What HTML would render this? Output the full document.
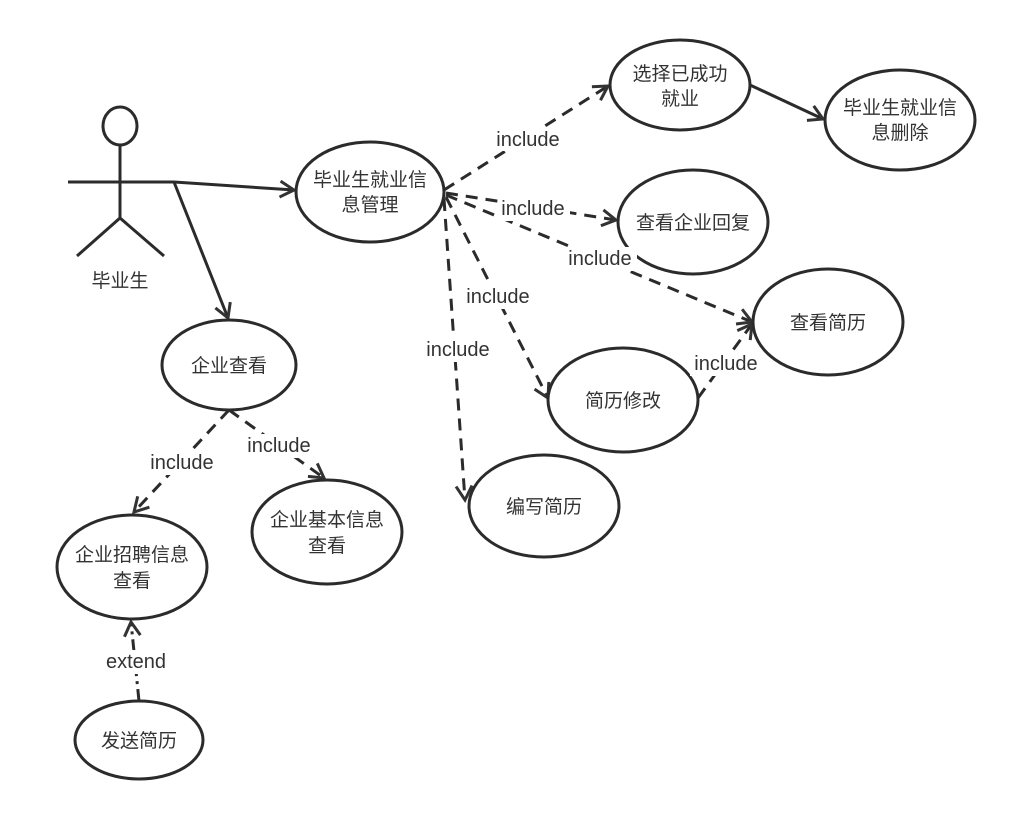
<!DOCTYPE html>
<html><head><meta charset="utf-8"><style>
html,body{margin:0;padding:0;background:#fff;}
svg text{font-family:"Liberation Sans","Noto Sans CJK SC",sans-serif;fill:#333;}
</style></head><body>
<svg width="1011" height="816" viewBox="0 0 1011 816" xmlns="http://www.w3.org/2000/svg">
<defs>
<marker id="a" markerWidth="20" markerHeight="20" refX="16" refY="10" orient="auto" markerUnits="userSpaceOnUse">
<path d="M2,2 L16,10 L2,18" fill="none" stroke="#333" stroke-width="3"/>
</marker>
</defs>
<g stroke="#2b2b2b" stroke-width="3" fill="none">
<ellipse cx="120" cy="126" rx="17" ry="19"/>
<line x1="120" y1="145" x2="120" y2="218"/>
<line x1="68" y1="182" x2="174" y2="182"/>
<line x1="120" y1="218" x2="77" y2="256"/>
<line x1="120" y1="218" x2="164" y2="256"/>
<line x1="174" y1="182" x2="294" y2="190" marker-end="url(#a)"/>
<line x1="174" y1="182" x2="228" y2="318" marker-end="url(#a)"/>
<line x1="750" y1="85" x2="823" y2="119" marker-end="url(#a)"/>
<g stroke-dasharray="12,8">
<line x1="444" y1="190" x2="608" y2="86" marker-end="url(#a)"/>
<line x1="446" y1="193" x2="616" y2="220" marker-end="url(#a)"/>
<line x1="446" y1="195" x2="752" y2="322" marker-end="url(#a)"/>
<line x1="446" y1="197" x2="548" y2="398" marker-end="url(#a)"/>
<line x1="444" y1="199" x2="465" y2="500" marker-end="url(#a)"/>
<line x1="698" y1="398" x2="752" y2="324" marker-end="url(#a)"/>
<line x1="229" y1="410" x2="134" y2="512" marker-end="url(#a)"/>
<line x1="229" y1="410" x2="324" y2="478" marker-end="url(#a)"/>
</g>
<line x1="139" y1="701" x2="131" y2="622" stroke-dasharray="12,5,3,5" marker-end="url(#a)"/>
<g fill="#fff">
<ellipse cx="370" cy="192" rx="74" ry="50"/>
<ellipse cx="680" cy="85" rx="70" ry="45"/>
<ellipse cx="900" cy="120" rx="75" ry="50"/>
<ellipse cx="693" cy="222" rx="75" ry="52"/>
<ellipse cx="828" cy="322" rx="75" ry="53"/>
<ellipse cx="623" cy="400" rx="75" ry="52"/>
<ellipse cx="544" cy="506" rx="75" ry="51"/>
<ellipse cx="229" cy="365" rx="67" ry="45"/>
<ellipse cx="327" cy="532" rx="75" ry="52"/>
<ellipse cx="132" cy="567" rx="75" ry="52"/>
<ellipse cx="139" cy="740" rx="64" ry="39"/>
</g>
</g>
<g fill="#fff">
<rect x="493" y="127" width="70" height="24"/>
<rect x="498" y="197" width="72" height="24"/>
<rect x="565" y="247" width="72" height="24"/>
<rect x="462" y="285" width="72" height="24"/>
<rect x="422" y="338" width="72" height="24"/>
<rect x="690" y="352" width="72" height="24"/>
<rect x="146" y="451" width="72" height="24"/>
<rect x="243" y="434" width="72" height="24"/>
<rect x="101" y="650" width="70" height="24"/>
</g>
<g font-size="19" text-anchor="middle">
<text x="120" y="287">毕业生</text>
<text x="370" y="186">毕业生就业信</text><text x="370" y="211">息管理</text>
<text x="680" y="80">选择已成功</text><text x="680" y="105">就业</text>
<text x="900" y="114">毕业生就业信</text><text x="900" y="139">息删除</text>
<text x="693" y="229">查看企业回复</text>
<text x="828" y="329">查看简历</text>
<text x="623" y="407">简历修改</text>
<text x="544" y="513">编写简历</text>
<text x="229" y="372">企业查看</text>
<text x="327" y="526">企业基本信息</text><text x="327" y="552">查看</text>
<text x="132" y="561">企业招聘信息</text><text x="132" y="587">查看</text>
<text x="139" y="747">发送简历</text>
</g>
<g font-size="20" text-anchor="middle">
<text x="528" y="146">include</text>
<text x="533" y="215">include</text>
<text x="600" y="265">include</text>
<text x="498" y="303">include</text>
<text x="458" y="356">include</text>
<text x="726" y="370">include</text>
<text x="182" y="469">include</text>
<text x="279" y="452">include</text>
<text x="136" y="668">extend</text>
</g>
</svg>
</body></html>
